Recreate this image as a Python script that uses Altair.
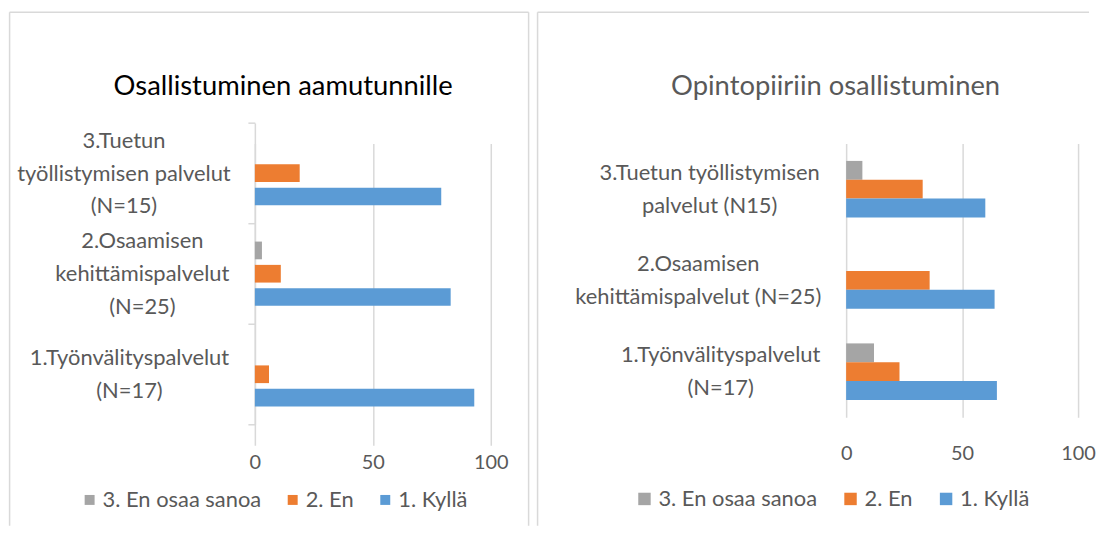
import altair as alt
import pandas as pd

# ---------------- data ----------------
series = ["3. En osaa sanoa", "2. En", "1. Kyllä"]
series_colors = ["#a5a5a5", "#ed7d31", "#5b9bd5"]

left_title = "Osallistuminen aamutunnille"
left_categories = [
    "3.Tuetun|työllistymisen palvelut|(N=15)",
    "2.Osaamisen|kehittämispalvelut|(N=25)",
    "1.Työnvälityspalvelut|(N=17)",
]
left_en_osaa_sanoa = [0, 3, 0]
left_en = [19, 11, 6]
left_kylla = [79, 83, 93]

right_title = "Opintopiiriin osallistuminen"
right_categories = [
    "3.Tuetun työllistymisen|palvelut (N15)",
    "2.Osaamisen|kehittämispalvelut (N=25)",
    "1.Työnvälityspalvelut|(N=17)",
]
right_en_osaa_sanoa = [7, 0, 12]
right_en = [33, 36, 23]
right_kylla = [60, 64, 65]

x_ticks = [0, 50, 100]

FONT = "Lato"
GRID = "#d9d9d9"
TEXT = "#595959"
LINE_H = 33


def make_df(cats, a, b, c):
    rows = []
    for i, cat in enumerate(cats):
        for s, vals in zip(series, [a, b, c]):
            rows.append({"category": cat, "series": s, "value": vals[i]})
    return pd.DataFrame(rows)


one = pd.DataFrame({"k": [0]})


def rule(x, y, x2=None, y2=None):
    enc = dict(x=alt.value(x), y=alt.value(y))
    if x2 is not None:
        enc["x2"] = alt.value(x2)
    if y2 is not None:
        enc["y2"] = alt.value(y2)
    return alt.Chart(one).mark_rule(color=GRID, strokeWidth=1.5).encode(**enc)


def title_mark(text, color, tx, ty):
    return alt.Chart(one).mark_text(
        text=text, font=FONT, fontSize=27.5, color=color,
        align="center", baseline="alphabetic"
    ).encode(x=alt.value(tx), y=alt.value(ty))


def per_label(cats, vals, default):
    return {
        "condition": [
            {"test": "datum.value === '%s'" % c, "value": v}
            for c, v in zip(cats, vals)
        ],
        "value": default,
    }


def line_offsets(cats):
    # shift multi-line labels up so the block is centred on its band
    return [-(len(c.split("|")) - 1) * LINE_H / 2 for c in cats]


def bars(df, cats, y_axis, y_scale, off_pad_inner, off_pad_outer, x_label_pad,
         legend_x, legend_y, sym_size, col_pad, lab_off):
    return alt.Chart(df).mark_bar().encode(
        x=alt.X("value:Q",
                scale=alt.Scale(domain=[0, 100], nice=False),
                axis=alt.Axis(values=x_ticks, title=None, domain=False,
                              ticks=False, tickSize=0, grid=True,
                              gridColor=GRID, gridWidth=1.5,
                              labelFont=FONT, labelFontSize=20,
                              labelColor=TEXT, labelPadding=x_label_pad,
                              labelBaseline="middle", labelFlush=False)),
        y=alt.Y("category:N", sort=cats, scale=y_scale, axis=y_axis),
        yOffset=alt.YOffset("series:N",
                            scale=alt.Scale(domain=series,
                                            paddingInner=off_pad_inner,
                                            paddingOuter=off_pad_outer)),
        color=alt.Color("series:N",
                        scale=alt.Scale(domain=series, range=series_colors),
                        legend=alt.Legend(
                            title=None, orient="none", direction="horizontal",
                            legendX=legend_x, legendY=legend_y,
                            symbolType="square", symbolSize=sym_size,
                            symbolStrokeWidth=0, labelFont=FONT,
                            labelFontSize=22, labelColor=TEXT,
                            labelLimit=400, columnPadding=col_pad,
                            labelOffset=lab_off, padding=0)),
    )


# ---------------- left panel ----------------
left_df = make_df(left_categories, left_en_osaa_sanoa, left_en, left_kylla)
left_axis = alt.Axis(
    title=None, domain=True, domainColor=GRID, domainWidth=1.5,
    ticks=True, tickBand="extent", tickSize=7, tickColor=GRID, tickWidth=1.5,
    grid=False, labelExpr="split(datum.label, '|')",
    labelFont=FONT, labelFontSize=22, labelColor=TEXT, labelLineHeight=LINE_H,
    labelAlign="center", labelBaseline="middle", labelLimit=400,
    labelOverlap=False,
    labelPadding=per_label(left_categories, [125, 106.5, 119.5], 119),
    labelOffset=per_label(left_categories, line_offsets(left_categories), 0),
)
LW, LH = 237, 282.25
left_y_scale = alt.Scale(paddingInner=0, paddingOuter=0,
                         range=[-20.75, 282.25])
left = alt.layer(
    rule(-246.4, -132, x2=275),
    rule(-246.4, -132, y2=384),
    rule(275, -132, y2=384),
    title_mark(left_title, "#000000", 28.4, -48.75),
    bars(left_df, left_categories, left_axis, left_y_scale, 0.24, 0.778, 38,
         -177, 347, 100, 20, 2),
).properties(width=LW, height=LH)

# ---------------- right panel ----------------
right_df = make_df(right_categories, right_en_osaa_sanoa, right_en, right_kylla)
right_axis = alt.Axis(
    title=None, domain=False, ticks=False, tickSize=0, grid=False,
    labelExpr="split(datum.label, '|')",
    labelFont=FONT, labelFontSize=22, labelColor=TEXT, labelLineHeight=LINE_H,
    labelAlign="center", labelBaseline="middle", labelLimit=400,
    labelOverlap=False,
    labelPadding=per_label(right_categories, [137.6, 149.1, 126.6], 130),
    labelOffset=per_label(right_categories, line_offsets(right_categories), 0),
)
RW, RH = 233, 275
right_y_scale = alt.Scale(paddingInner=0.38, paddingOuter=0.19)
right = alt.layer(
    rule(-310, -132, x2=244),
    rule(-310, -132, y2=384),
    title_mark(right_title, TEXT, -10.6, -48.75),
    bars(right_df, right_categories, right_axis, right_y_scale, 0.0, 0.0, 36,
         -213.6, 346, 156, 22, 3),
).properties(width=RW, height=RH)

chart = alt.concat(left, right, columns=2, spacing=7, align="none").resolve_scale(
    x="independent", y="independent", yOffset="independent",
    color="independent"
).properties(
    padding={"left": 0, "top": 2, "right": 0, "bottom": 0}
).configure_view(strokeWidth=0)

chart.save("out.html", embed_options={"renderer": "svg", "actions": False})
